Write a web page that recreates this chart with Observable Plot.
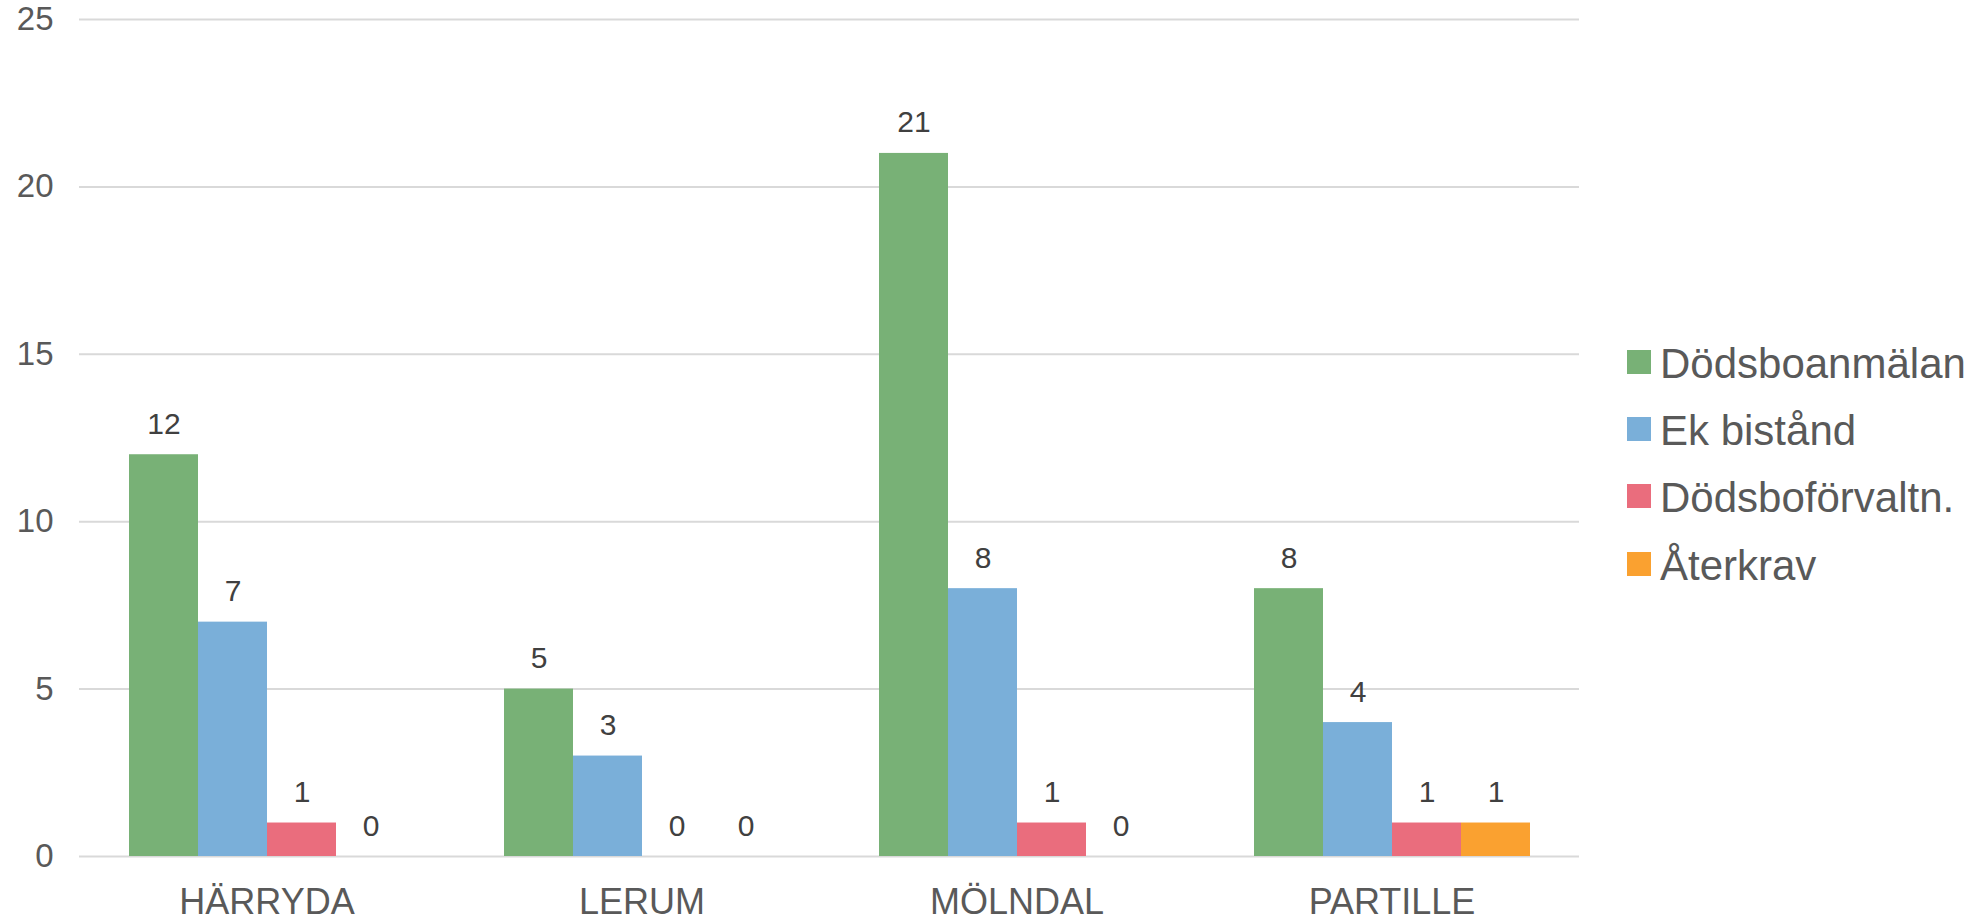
<!DOCTYPE html>
<html>
<head>
<meta charset="utf-8">
<script src="https://cdn.jsdelivr.net/npm/d3@7"></script>
<script src="https://cdn.jsdelivr.net/npm/@observablehq/plot@0.6"></script>
<style>
  html, body { margin: 0; padding: 0; background: #fff; }
  #wrap { position: relative; width: 1988px; height: 919px; font-family: "Liberation Sans", Arial, sans-serif; }
  #legend { position: absolute; left: 1627px; top: 328px; }
  .row { display: flex; align-items: center; height: 67.3px; }
  .sw { width: 24px; height: 24px; margin-right: 9px; }
  .lab { font-size: 42px; color: #595959; line-height: 1; position: relative; top: 2px; }
</style>
</head>
<body>
<div id="wrap"></div>
<script>
const categories = ["HÄRRYDA", "LERUM", "MÖLNDAL", "PARTILLE"];
const series = ["Dödsboanmälan", "Ek bistånd", "Dödsboförvaltn.", "Återkrav"];
const dodsboanmalan = [12, 5, 21, 8];
const ekBistand = [7, 3, 8, 4];
const dodsboforvaltn = [1, 0, 1, 1];
const aterkrav = [0, 0, 0, 1];
const colors = ["#78b176", "#7aafd9", "#ea6d7d", "#faa130"];
const yTicks = [0, 5, 10, 15, 20, 25];

const values = [dodsboanmalan, ekBistand, dodsboforvaltn, aterkrav];
const data = [];
categories.forEach((c, i) => {
  series.forEach((s, j) => data.push({category: c, series: s, value: values[j][i]}));
});

const font = '"Liberation Sans", Arial, sans-serif';

const chart = Plot.plot({
  width: 1988,
  height: 919,
  marginLeft: 79,
  marginRight: 409,
  marginTop: 19,
  marginBottom: 63,
  style: {fontFamily: font, background: "#fff", overflow: "visible"},
  fx: {domain: categories, padding: 0, label: null},
  x: {domain: series, paddingInner: 0, paddingOuter: 0.717, axis: null},
  y: {domain: [0, 25], label: null},
  color: {domain: series, range: colors},
  marks: [
    Plot.ruleY(yTicks, {stroke: "#d9d9d9", strokeWidth: 2}),
    Plot.barY(data, {fx: "category", x: "series", y: "value", fill: "series"}),
    Plot.text(data, {fx: "category", x: "series", y: "value", text: d => String(d.value),
      lineAnchor: "bottom", dy: -21, fontSize: 30, fill: "#404040", fontFamily: font}),
    Plot.axisY({ticks: yTicks, tickSize: 0, tickPadding: 26, fontSize: 33, fill: "#595959", label: null, fontFamily: font}),
    Plot.axisFx({anchor: "bottom", tickSize: 0, tickPadding: 32, fontSize: 36, fill: "#595959", label: null, fontFamily: font})
  ]
});

const wrap = document.getElementById("wrap");
wrap.appendChild(chart);

const legend = document.createElement("div");
legend.id = "legend";
series.forEach((s, j) => {
  const row = document.createElement("div");
  row.className = "row";
  const sw = document.createElement("div");
  sw.className = "sw";
  sw.style.background = colors[j];
  const lab = document.createElement("span");
  lab.className = "lab";
  lab.textContent = s;
  row.appendChild(sw);
  row.appendChild(lab);
  legend.appendChild(row);
});
wrap.appendChild(legend);
</script>
</body>
</html>
